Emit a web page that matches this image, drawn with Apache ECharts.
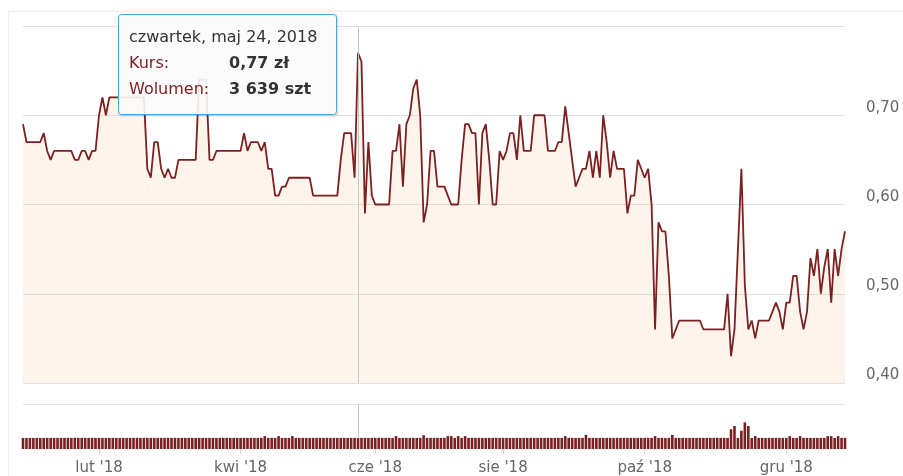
<!DOCTYPE html>
<html>
<head>
<meta charset="utf-8">
<script src="https://cdn.jsdelivr.net/npm/echarts@6/dist/echarts.min.js"></script>
<style>
  html, body { margin: 0; padding: 0; background: #ffffff; }
  #chart { width: 903px; height: 476px; }
</style>
</head>
<body>
<div id="chart"></div>
<script>
// ---- DATA ----
// trading days (sessions with trades) per month, 2018
const tradingDays = {
  '2018-01': [2,3,4,5,8,9,10,11,12,15,16,17,18,19,22,23,24,25,26,29,30,31],
  '2018-02': [1,2,5,6,7,8,9,12,13,14,15,16,19,20,21,22,23,26,27,28],
  '2018-03': [1,2,5,6,7,8,9,12,13,14,15,16,19,20,21,22,23,26,27,28,29],
  '2018-04': [3,4,5,6,9,10,11,12,13,16,17,18,19,20,23,24,25,26,30],
  '2018-05': [2,4,7,8,9,10,11,14,15,16,17,18,21,22,23,24,25,28,29,30],
  '2018-06': [1,4,5,6,7,11,12,13,14,18,19,20,21,25,26,27,28,29],
  '2018-07': [2,3,4,5,9,10,11,12,16,17,18,19,23,24,25,26,27,30,31],
  '2018-08': [1,2,3,6,7,8,9,10,13,14,16,17,20,21,22,23,27,28,29,30,31],
  '2018-09': [3,4,5,6,7,10,11,12,13,14,17,18,19,20,21,24,25,26,27,28],
  '2018-10': [1,2,3,4,5,8,9,10,11,15,16,17,18,19,22,23,24,25,26,29,30,31],
  '2018-11': [2,5,6,7,8,9,13,14,15,16,19,20,21,22,26,27,28,29,30],
  '2018-12': [3,4,5,6,7,10,11,12,13,14,17,18,19,20,21,27,28,31]
};

// closing price (zł)
const price = [
  0.69,0.67,0.67,0.67,0.67,0.67,0.68,0.66,0.65,0.66,
  0.66,0.66,0.66,0.66,0.66,0.65,0.65,0.66,0.66,0.65,
  0.66,0.66,0.70,0.72,0.70,0.72,0.72,0.72,0.72,0.72,
  0.72,0.72,0.72,0.72,0.72,0.72,0.64,0.63,0.67,0.67,
  0.64,0.63,0.64,0.63,0.63,0.65,0.65,0.65,0.65,0.65,
  0.65,0.74,0.74,0.74,0.65,0.65,0.66,0.66,0.66,0.66,
  0.66,0.66,0.66,0.66,0.68,0.66,0.67,0.67,0.67,0.66,
  0.67,0.64,0.64,0.61,0.61,0.62,0.62,0.63,0.63,0.63,
  0.63,0.63,0.63,0.63,0.61,0.61,0.61,0.61,0.61,0.61,
  0.61,0.61,0.65,0.68,0.68,0.68,0.63,0.77,0.76,0.59,
  0.67,0.61,0.60,0.60,0.60,0.60,0.60,0.66,0.66,0.69,
  0.62,0.69,0.70,0.73,0.74,0.70,0.58,0.60,0.66,0.66,
  0.62,0.62,0.62,0.61,0.60,0.60,0.60,0.65,0.69,0.69,
  0.68,0.68,0.60,0.68,0.69,0.65,0.60,0.60,0.66,0.65,
  0.66,0.68,0.68,0.65,0.70,0.66,0.66,0.66,0.70,0.70,
  0.70,0.70,0.66,0.66,0.66,0.67,0.67,0.71,0.68,0.65,
  0.62,0.63,0.64,0.64,0.66,0.63,0.66,0.63,0.70,0.67,
  0.63,0.66,0.64,0.64,0.64,0.59,0.61,0.61,0.65,0.64,
  0.63,0.64,0.60,0.46,0.58,0.57,0.57,0.52,0.45,0.46,
  0.47,0.47,0.47,0.47,0.47,0.47,0.47,0.46,0.46,0.46,
  0.46,0.46,0.46,0.46,0.50,0.43,0.46,0.55,0.64,0.51,
  0.46,0.47,0.45,0.47,0.47,0.47,0.47,0.48,0.49,0.48,
  0.46,0.49,0.49,0.52,0.52,0.48,0.46,0.48,0.54,0.52,
  0.55,0.50,0.53,0.55,0.49,0.55,0.52,0.55,0.57
];

// volume (szt)
const volume = [
  3700,3700,3700,3700,3700,3700,3700,3700,3700,3700,
  3700,3700,3700,3700,3700,3700,3700,3700,3700,3700,
  3700,3700,3700,3700,3700,3700,3700,3700,3700,3700,
  3700,3700,3700,3700,3700,3700,3700,3700,3700,3700,
  3700,3700,3700,3700,3700,3700,3700,3700,3700,3700,
  3700,3700,3700,3700,3700,3700,3700,3700,3700,3700,
  3700,3700,3700,3700,3700,3700,3700,3700,3700,3700,
  4300,3700,3700,3700,4300,3700,3700,3700,4300,3700,
  3700,3700,3700,3700,3700,3700,3700,3700,3700,3700,
  3700,3700,3700,3700,3700,3700,3700,3639,3700,3700,
  3700,3700,3700,3700,3700,3700,3700,3700,4300,3700,
  3700,3700,3700,3700,3700,3700,4600,3700,3700,3700,
  3700,3700,3700,4300,4300,3700,4300,3700,4300,3700,
  3700,3700,3700,3700,3700,3700,3700,3700,3700,3700,
  3700,3700,3700,3700,3700,3700,3700,3700,3700,3700,
  3700,3700,3700,3700,3700,3700,3700,4300,3700,3700,
  3700,3700,3700,4700,3700,3700,3700,3700,3700,3700,
  3700,3700,3700,3700,3700,3700,3700,3700,3700,3700,
  3700,3700,3700,4300,3700,3700,3700,3700,4700,3700,
  3700,3700,3700,3700,3700,3700,3700,3700,3700,3700,
  3700,3700,3700,3700,3700,6570,7670,3700,6100,8900,
  7670,3700,4330,3700,3700,3700,3700,3700,3700,3700,
  3700,3700,4300,3700,3700,4300,3700,3700,3700,3700,
  3700,3700,3700,4300,4300,3700,4300,3700,3700
];

const yTicks = [0.40, 0.50, 0.60, 0.70, 0.80];
const labelMonths = [2, 4, 6, 8, 10, 12];
const monthShort = ['sty','lut','mar','kwi','maj','cze','lip','sie','wrz','paź','lis','gru'];
const dayNames = ['niedziela','poniedziałek','wtorek','środa','czwartek','piątek','sobota'];
const tooltipIndex = 97;

// ---- BUILD ----
const dates = [];
Object.keys(tradingDays).forEach(function (ym) {
  tradingDays[ym].forEach(function (d) {
    dates.push(ym + '-' + (d < 10 ? '0' + d : '' + d));
  });
});
const tickIdxSet = {};
const seenMonth = {};
dates.forEach(function (ds, i) {
  const m = parseInt(ds.slice(5, 7), 10);
  if (labelMonths.indexOf(m) >= 0 && !seenMonth[m]) { seenMonth[m] = true; tickIdxSet[i] = true; }
});
function isTick(i) { return !!tickIdxSet[i]; }

function fmtNum(v, dec) { return v.toFixed(dec).replace('.', ','); }
function fmtInt(v) { return String(v).replace(/\B(?=(\d{3})+(?!\d))/g, ' '); }
function fmtDate(ds) {
  const y = +ds.slice(0, 4), m = +ds.slice(5, 7), d = +ds.slice(8, 10);
  const dt = new Date(y, m - 1, d);
  return dayNames[dt.getDay()] + ', ' + monthShort[m - 1] + ' ' + d + ', ' + y;
}

const FONT = '"DejaVu Sans", "Open Sans", sans-serif';
const LINE_COLOR = '#7d2020';
const TIP_X = 118, TIP_Y = 14;

const tipText = { fontFamily: FONT, fontSize: 16, verticalAlign: 'middle', align: 'left' };
function tipEl(x, y, text, fill, bold) {
  return {
    type: 'text', x: x, y: y, silent: true, z: 101,
    style: Object.assign({}, tipText, { text: text, fill: fill, fontWeight: bold ? 'bold' : 'normal' })
  };
}

const chart = echarts.init(document.getElementById('chart'), null, { renderer: 'canvas' });

chart.setOption({
  animation: false,
  backgroundColor: '#ffffff',
  textStyle: { fontFamily: FONT },
  graphic: [
    {
      type: 'rect', silent: true, z: -10,
      shape: { x: 8.5, y: 11.5, width: 900, height: 480 },
      style: { fill: null, stroke: '#eeeeee', lineWidth: 1 }
    },
    {
      type: 'group', x: TIP_X, y: TIP_Y, z: 100, silent: true,
      children: [
        {
          type: 'rect', silent: true, z: 99,
          shape: { x: 1.5, y: 1.5, width: 218, height: 100, r: 3 },
          style: { fill: null, stroke: 'rgba(0,0,0,0.10)', lineWidth: 2 }
        },
        {
          type: 'rect', silent: true, z: 100,
          shape: { x: 0.5, y: 0.5, width: 218, height: 100, r: 3 },
          style: { fill: 'rgba(251,251,251,0.9)', stroke: '#4ba3de', lineWidth: 1 }
        },
        tipEl(11, 24, fmtDate(dates[tooltipIndex]), '#333333', false),
        tipEl(11, 50, 'Kurs:', LINE_COLOR, false),
        tipEl(111, 50, fmtNum(price[tooltipIndex], 2) + ' zł', '#333333', true),
        tipEl(11, 76, 'Wolumen:', LINE_COLOR, false),
        tipEl(111, 76, fmtInt(volume[tooltipIndex]) + ' szt', '#333333', true)
      ]
    }
  ],
  grid: [
    { left: 23, right: 58, top: 26, height: 357 },
    { left: 23, right: 58, top: 404, height: 45 }
  ],
  xAxis: [
    {
      type: 'category', gridIndex: 0, data: dates, boundaryGap: false,
      axisLine: { show: false }, axisTick: { show: false }, axisLabel: { show: false },
      splitLine: { show: false }
    },
    {
      type: 'category', gridIndex: 1, data: dates, boundaryGap: false,
      axisLine: { show: false },
      axisTick: {
        show: true, length: 5, interval: function (i) { return isTick(i); },
        lineStyle: { color: '#ccd6eb' }
      },
      axisLabel: {
        show: true, interval: function (i) { return isTick(i); },
        color: '#666666', fontSize: 15, fontFamily: FONT, margin: 12,
        formatter: function (v) { return monthShort[+v.slice(5, 7) - 1] + " '" + v.slice(2, 4); }
      },
      splitLine: { show: false }
    }
  ],
  yAxis: [
    {
      type: 'value', gridIndex: 0, position: 'right',
      min: yTicks[0], max: yTicks[yTicks.length - 1], interval: 0.1,
      axisLine: { show: false }, axisTick: { show: false },
      axisLabel: {
        show: true, showMaxLabel: false, color: '#666666', fontSize: 15, fontFamily: FONT,
        margin: 21, align: 'left', verticalAlign: 'bottom',
        formatter: function (v) { return fmtNum(v, 2); }
      },
      splitLine: { show: true, lineStyle: { color: '#e0e0e0', width: 1 } }
    },
    {
      type: 'value', gridIndex: 1, position: 'right',
      min: 0, max: 15000, interval: 15000,
      axisLine: { show: false }, axisTick: { show: false }, axisLabel: { show: false },
      splitLine: { show: true, lineStyle: { color: ['rgba(0,0,0,0)', '#e3e3e3'], width: 1 } }
    }
  ],
  series: [
    {
      name: 'Kurs', type: 'line', xAxisIndex: 0, yAxisIndex: 0, data: price,
      showSymbol: false, symbol: 'none',
      lineStyle: { color: LINE_COLOR, width: 1.8 },
      itemStyle: { color: LINE_COLOR },
      areaStyle: { color: 'rgba(240,170,110,0.13)', opacity: 1, origin: 'start' },
      markLine: {
        silent: true, symbol: ['none', 'none'], animation: false,
        label: { show: false },
        lineStyle: { color: '#c8c8c8', width: 1, type: 'solid' },
        emphasis: { disabled: true },
        data: [{ xAxis: dates[tooltipIndex] }]
      }
    },
    {
      name: 'Wolumen', type: 'bar', xAxisIndex: 1, yAxisIndex: 1, data: volume,
      barWidth: 2.6,
      itemStyle: { color: '#7b2020' },
      z: 3,
      markLine: {
        silent: true, symbol: ['none', 'none'], animation: false, z: 1,
        label: { show: false },
        lineStyle: { color: '#c8c8c8', width: 1, type: 'solid' },
        emphasis: { disabled: true },
        data: [{ xAxis: dates[tooltipIndex] }]
      }
    }
  ]
});
</script>
</body>
</html>
